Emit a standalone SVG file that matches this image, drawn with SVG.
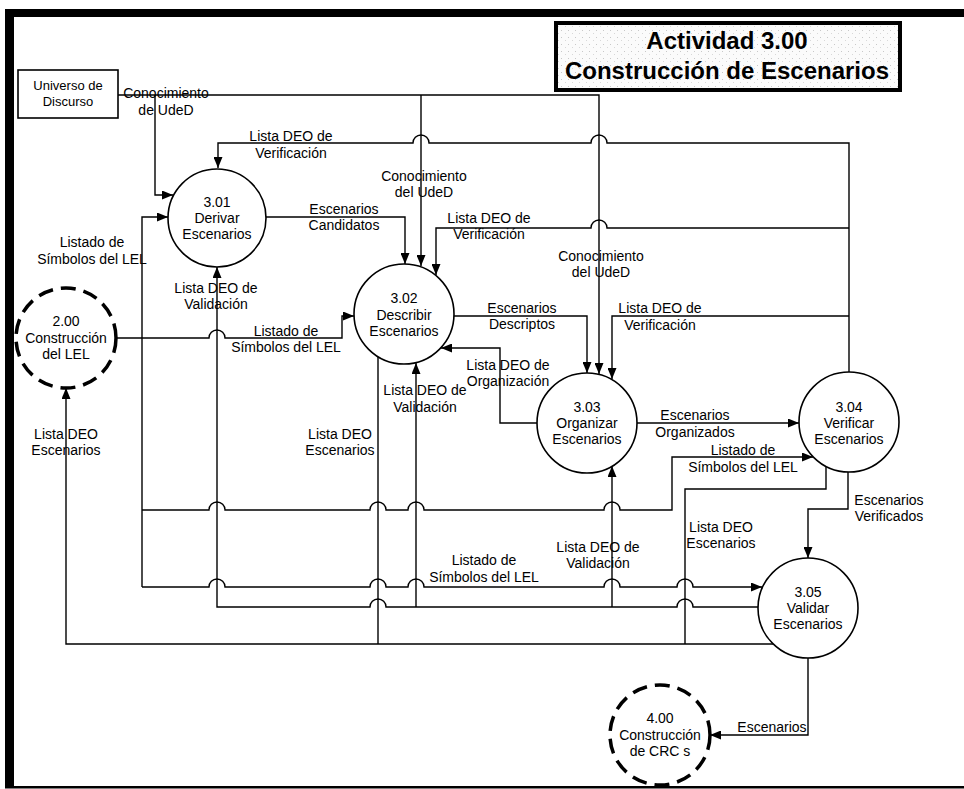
<svg xmlns="http://www.w3.org/2000/svg" width="964" height="789" viewBox="0 0 964 789">
<style>
.t{font-family:"Liberation Sans",Arial,sans-serif;font-size:14px;fill:#000;text-anchor:middle}
.ts{font-family:"Liberation Sans",Arial,sans-serif;font-size:13px;fill:#000;text-anchor:middle}
.title{font-family:"Liberation Sans",Arial,sans-serif;font-size:24px;font-weight:bold;fill:#000;text-anchor:middle}
.ln{fill:none;stroke:#000;stroke-width:1.4}
.arr{marker-end:url(#ah)}
.proc{fill:#fff;stroke:#000;stroke-width:1.6}
.ext{fill:#fff;stroke:#000;stroke-width:3.5;stroke-dasharray:15 8}
.box{fill:#fff;stroke:#000;stroke-width:1.6}
</style>
<defs>
<marker id="ah" markerUnits="userSpaceOnUse" markerWidth="11" markerHeight="9" refX="11" refY="4.5" orient="auto">
<path d="M0,0 L11,4.5 L0,9 z" fill="#000"/>
</marker>
<pattern id="speck" width="7" height="7" patternUnits="userSpaceOnUse">
<rect width="7" height="7" fill="#fbfbfb"/>
<rect x="1" y="2" width="1" height="1" fill="#c8c8c8"/>
<rect x="5" y="5" width="1" height="1" fill="#d8d8d8"/>
</pattern>
</defs>
<rect width="964" height="789" fill="#fff"/>
<g id="frame">
<rect x="5" y="9" width="959" height="8" fill="#000"/>
<rect x="5" y="9" width="9" height="779" fill="#000"/>
<rect x="5" y="786" width="959" height="2.5" fill="#000"/>
</g>
<g id="title">
<rect x="556" y="23" width="344" height="67" fill="url(#speck)" stroke="#000" stroke-width="4"/>
<text class="title" x="727" y="49">Actividad 3.00</text>
<text class="title" x="727" y="79">Construcción de Escenarios</text>
</g>
<g id="connectors">
<path class="ln arr" d="M118 95 H599 V374"/>
<path class="ln arr" d="M155 95 V195 H173"/>
<path class="ln arr" d="M421 95 V266"/>
<path class="ln arr" d="M849 372 V143 H607 A8 8 0 0 0 591 143 H429 A8 8 0 0 0 413 143 H218 V168"/>
<path class="ln arr" d="M849 228 H607 A8 8 0 0 0 591 228 H436 V275"/>
<path class="ln arr" d="M849 316 H612 V379"/>
<path class="ln arr" d="M266 217 H405 V264"/>
<path class="ln arr" d="M117 338 H209 A8 8 0 0 1 225 338 H342 V316 H354"/>
<path class="ln arr" d="M142 338 V217 H168"/>
<path class="ln" d="M142 338 V587"/>
<path class="ln arr" d="M142 510 H209 A8 8 0 0 1 225 510 H370 A8 8 0 0 1 386 510 H408 A8 8 0 0 1 424 510 H604 A8 8 0 0 1 620 510 H672 V457 H813"/>
<path class="ln arr" d="M142 587 H209 A8 8 0 0 1 225 587 H370 A8 8 0 0 1 386 587 H408 A8 8 0 0 1 424 587 H604 A8 8 0 0 1 620 587 H677 A8 8 0 0 1 693 587 H762"/>
<path class="ln arr" d="M758 607 H693 A8 8 0 0 0 677 607 H386 A8 8 0 0 0 370 607 H217 V267"/>
<path class="ln arr" d="M612 607 V466"/>
<path class="ln arr" d="M416 607 V363"/>
<path class="ln arr" d="M773 644 H66 V388"/>
<path class="ln" d="M378 357 V644"/>
<path class="ln" d="M826 467 V489 H685 V644"/>
<path class="ln arr" d="M454 316 H587 V373"/>
<path class="ln arr" d="M537 423 H500 V348 H441"/>
<path class="ln arr" d="M637 423 H799"/>
<path class="ln arr" d="M848 472 V509 H808 V558"/>
<path class="ln arr" d="M808 658 V735 H710"/>
</g>
<g id="labels">
<text class="t" x="166" y="98">Conocimiento</text>
<text class="t" x="166" y="115">de UdeD</text>
<text class="t" x="291" y="141">Lista DEO de</text>
<text class="t" x="291" y="158">Verificación</text>
<text class="t" x="424" y="181">Conocimiento</text>
<text class="t" x="424" y="197">del UdeD</text>
<text class="t" x="344" y="214">Escenarios</text>
<text class="t" x="344" y="230">Candidatos</text>
<text class="t" x="489" y="223">Lista DEO de</text>
<text class="t" x="489" y="239">Verificación</text>
<text class="t" x="92" y="247">Listado de</text>
<text class="t" x="92" y="264">Símbolos del LEL</text>
<text class="t" x="216" y="293">Lista DEO de</text>
<text class="t" x="216" y="309">Validación</text>
<text class="t" x="286" y="336">Listado de</text>
<text class="t" x="286" y="352">Símbolos del LEL</text>
<text class="t" x="601" y="261">Conocimiento</text>
<text class="t" x="601" y="277">del UdeD</text>
<text class="t" x="522" y="313">Escenarios</text>
<text class="t" x="522" y="329">Descriptos</text>
<text class="t" x="660" y="313">Lista DEO de</text>
<text class="t" x="660" y="330">Verificación</text>
<text class="t" x="508" y="370">Lista DEO de</text>
<text class="t" x="508" y="386">Organización</text>
<text class="t" x="425" y="395">Lista DEO de</text>
<text class="t" x="425" y="412">Validación</text>
<text class="t" x="695" y="420">Escenarios</text>
<text class="t" x="695" y="437">Organizados</text>
<text class="t" x="66" y="439">Lista DEO</text>
<text class="t" x="66" y="455">Escenarios</text>
<text class="t" x="340" y="439">Lista DEO</text>
<text class="t" x="340" y="455">Escenarios</text>
<text class="t" x="743" y="455">Listado de</text>
<text class="t" x="743" y="472">Símbolos del LEL</text>
<text class="t" x="889" y="505">Escenarios</text>
<text class="t" x="889" y="521">Verificados</text>
<text class="t" x="721" y="532">Lista DEO</text>
<text class="t" x="721" y="548">Escenarios</text>
<text class="t" x="598" y="552">Lista DEO de</text>
<text class="t" x="598" y="568">Validación</text>
<text class="t" x="484" y="565">Listado de</text>
<text class="t" x="484" y="582">Símbolos del LEL</text>
<text class="t" x="772" y="732">Escenarios</text>
</g>
<g id="universo">
<rect class="box" x="18" y="70" width="100" height="48"/>
<text class="ts" x="68" y="90">Universo de</text>
<text class="ts" x="68" y="106">Discurso</text>
</g>
<g id="p301">
<circle class="proc" cx="217" cy="218" r="49"/>
<text class="t" x="217" y="207">3.01</text>
<text class="t" x="217" y="223">Derivar</text>
<text class="t" x="217" y="239">Escenarios</text>
</g>
<g id="p302">
<circle class="proc" cx="404" cy="314" r="50"/>
<text class="t" x="404" y="303">3.02</text>
<text class="t" x="404" y="320">Describir</text>
<text class="t" x="404" y="336">Escenarios</text>
</g>
<g id="p303">
<circle class="proc" cx="587" cy="423" r="50"/>
<text class="t" x="587" y="412">3.03</text>
<text class="t" x="587" y="428">Organizar</text>
<text class="t" x="587" y="444">Escenarios</text>
</g>
<g id="p304">
<circle class="proc" cx="849" cy="422" r="50"/>
<text class="t" x="849" y="412">3.04</text>
<text class="t" x="849" y="428">Verificar</text>
<text class="t" x="849" y="444">Escenarios</text>
</g>
<g id="p305">
<circle class="proc" cx="808" cy="608" r="50"/>
<text class="t" x="808" y="597">3.05</text>
<text class="t" x="808" y="613">Validar</text>
<text class="t" x="808" y="629">Escenarios</text>
</g>
<g id="e200">
<circle class="ext" cx="66" cy="338" r="50"/>
<text class="t" x="66" y="326">2.00</text>
<text class="t" x="66" y="343">Construcción</text>
<text class="t" x="66" y="359">del LEL</text>
</g>
<g id="e400">
<circle class="ext" cx="660" cy="735" r="50"/>
<text class="t" x="660" y="723">4.00</text>
<text class="t" x="660" y="740">Construcción</text>
<text class="t" x="660" y="756">de CRC s</text>
</g>
</svg>
